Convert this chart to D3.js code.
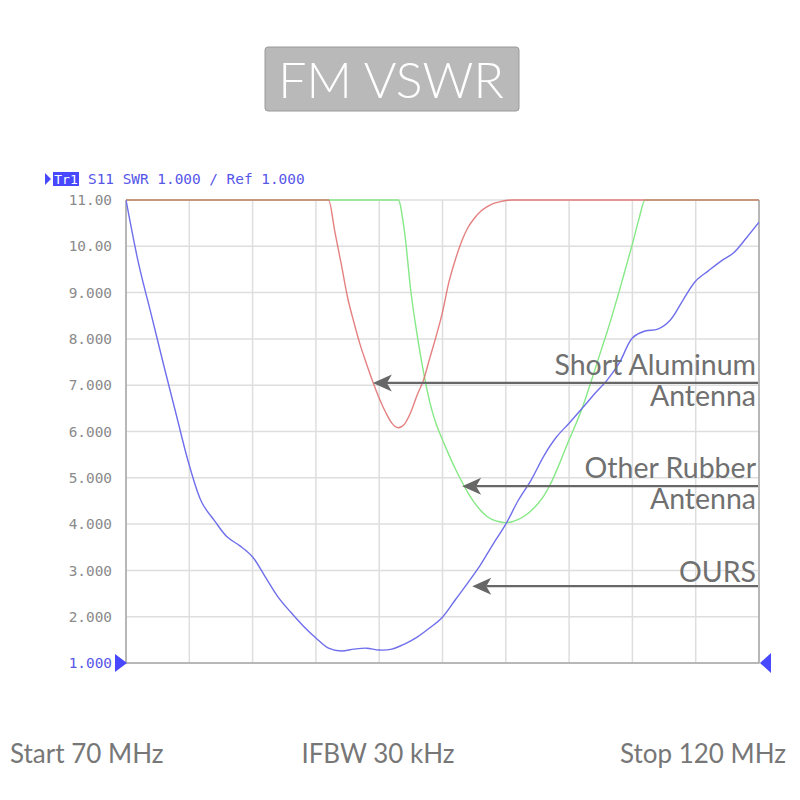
<!DOCTYPE html>
<html><head><meta charset="utf-8">
<script src="https://cdn.jsdelivr.net/npm/d3@7"></script>
<style>body{margin:0;background:#fff}svg{display:block}</style>
</head><body>
<script>
// ---- data ----
// OURS: 1 MHz steps 70..120
const oursFreq = d3.range(70, 121);
const ours = [11.0,9.62,8.52,7.41,6.33,5.27,4.46,4.07,3.72,3.53,3.29,2.86,2.43,2.10,1.80,1.54,1.32,1.26,1.30,1.32,1.28,1.30,1.41,1.56,1.76,1.99,2.36,2.73,3.12,3.57,4.00,4.52,4.95,5.47,5.88,6.18,6.49,6.81,7.11,7.50,8.02,8.17,8.21,8.41,8.84,9.25,9.47,9.68,9.86,10.18,10.52];
// Short Aluminum Antenna (read at 0.5 MHz around the dip)
const aluFreq = [70,85.5,86,86.5,87,87.5,88,88.5,89,89.5,90,90.5,91,91.5,92,92.5,93,93.5,94,94.5,95,95.5,96,96.5,97,97.5,98,98.5,99,99.5,100,100.5,120];
const shortAlu = [11,11,11,10.31,9.62,8.9,8.36,7.87,7.46,7.07,6.72,6.42,6.18,6.08,6.16,6.42,6.79,7.11,7.59,8.06,8.58,9.22,9.7,10.1,10.4,10.6,10.75,10.85,10.92,10.96,10.99,11,11];
// Other Rubber Antenna
const rubFreq = [70,91.5,92,92.5,93,93.5,94,94.5,95,95.5,96,96.5,97,97.5,98,98.5,99,99.5,100,100.5,101,101.5,102,102.5,103,103.5,104,104.5,105,105.5,106,106.5,107,107.5,108,108.5,109,109.5,110,110.5,111,120];
const otherRubber = [11,11,10.31,9.03,8.08,7.28,6.63,6.16,5.82,5.5,5.2,4.93,4.68,4.47,4.3,4.17,4.09,4.05,4.03,4.05,4.1,4.18,4.29,4.43,4.61,4.85,5.15,5.48,5.82,6.14,6.48,6.88,7.3,7.73,8.15,8.6,9.07,9.56,10.05,10.57,11,11];
const yTicks = [11,10,9,8,7,6,5,4,3,2,1];
const yTickLabels = ["11.00","10.00","9.000","8.000","7.000","6.000","5.000","4.000","3.000","2.000","1.000"];
const xTicks = d3.range(70, 121, 5);
const title = "FM VSWR";
const header = "S11 SWR 1.000 / Ref 1.000";
const footer = [["Start 70 MHz","start"],["IFBW 30 kHz","middle"],["Stop 120 MHz","end"]];
const notes = [
  {lines:["Short Aluminum","Antenna"], f:89.5, v:7.05},
  {lines:["Other Rubber","Antenna"], f:96.55, v:4.82},
  {lines:["OURS"], f:97.35, v:2.66}
];

// ---- layout ----
const W = 800, H = 800;
const L = 126, R = 759, T = 200, B = 663;
const svg = d3.select("body").append("svg").attr("width", W).attr("height", H);
const x = d3.scaleLinear().domain([70,120]).range([L,R]);
const y = d3.scaleLinear().domain([1,11]).range([B,T]);
const mono = "'DejaVu Sans Mono', monospace";
const sans = "Lato, 'Noto Sans', sans-serif";

// title box
svg.append("rect").attr("x",265).attr("y",47).attr("width",254).attr("height",64)
  .attr("rx",3).attr("fill","#b9b9b9").attr("stroke","#9a9a9a").attr("stroke-width",1);
svg.append("text").attr("x",391).attr("y",98).attr("text-anchor","middle")
  .attr("font-family",sans).attr("font-size",50).attr("font-weight",300).attr("fill","#fff").text(title);

// header
svg.append("path").attr("d","M45,173 L51,179 L45,185 Z").attr("fill","#4848ff");
svg.append("rect").attr("x",53).attr("y",172).attr("width",26).attr("height",14).attr("fill","#4848ff");
svg.append("text").attr("x",66).attr("y",183.5).attr("text-anchor","middle")
  .attr("font-family",mono).attr("font-size",13).attr("fill","#fff").text("Tr1");
svg.append("text").attr("x",88).attr("y",183.5)
  .attr("font-family",mono).attr("font-size",14.4).attr("fill","#5656e8").text(header);

// grid
const g = svg.append("g");
g.selectAll("line.h").data(yTicks).join("line")
  .attr("x1",L).attr("x2",R).attr("y1",d=>y(d)).attr("y2",d=>y(d))
  .attr("stroke","#dedede").attr("stroke-width",1.5);
g.selectAll("line.v").data(xTicks).join("line")
  .attr("y1",T).attr("y2",B).attr("x1",d=>x(d)).attr("x2",d=>x(d))
  .attr("stroke","#dedede").attr("stroke-width",1.5);
// frame
svg.append("path").attr("d",`M${L},${T} L${L},${B} L${R},${B} L${R},${T}`)
  .attr("fill","none").attr("stroke","#a8a8a8").attr("stroke-width",1.5);

// y axis labels
const yAxis = d3.axisLeft(y).tickValues(yTicks).tickSize(0).tickPadding(14)
  .tickFormat((d,i)=>yTickLabels[i]);
const ya = svg.append("g").attr("transform",`translate(${L},0)`).call(yAxis);
ya.select(".domain").remove();
ya.selectAll("text").attr("font-family",mono).attr("font-size",14.4)
  .attr("fill",d=>d===1?"#5656e8":"#8a8a8a");

// clip
svg.append("clipPath").attr("id","clip").append("rect")
  .attr("x",L).attr("y",T-1).attr("width",R-L).attr("height",B-T+1);

const mkLine = (fr, curve) => d3.line().x((d,i)=>x(fr[i])).y(d=>y(d)).curve(curve);
const plot = svg.append("g").attr("clip-path","url(#clip)");
plot.append("path").datum(otherRubber).attr("d",mkLine(rubFreq, d3.curveMonotoneX)).attr("fill","none")
  .attr("stroke","#86e886").attr("stroke-width",1.4);
plot.append("path").datum(shortAlu).attr("d",mkLine(aluFreq, d3.curveMonotoneX)).attr("fill","none")
  .attr("stroke","#e06a6a").attr("stroke-width",1.4).attr("stroke-opacity",0.85);
plot.append("path").datum(ours).attr("d",mkLine(oursFreq, d3.curveCatmullRom.alpha(0.5))).attr("fill","none")
  .attr("stroke","#6f6fec").attr("stroke-width",1.4);

// markers
svg.append("path").attr("d",`M${L-11},${B-9} L${L+1},${B} L${L-11},${B+9} Z`).attr("fill","#4848ff");
svg.append("path").attr("d",`M${R+12},${B-10} L${R+1},${B} L${R+12},${B+10} Z`).attr("fill","#4848ff");

// annotations
notes.forEach(n=>{
  const ax = x(n.f), ay = y(n.v);
  svg.append("line").attr("x1",ax+14).attr("x2",R-1).attr("y1",ay).attr("y2",ay)
    .attr("stroke","#676767").attr("stroke-width",2.2);
  svg.append("path").attr("d",`M${ax},${ay} L${ax+19},${ay-8.5} L${ax+14},${ay} L${ax+19},${ay+8.5} Z`)
    .attr("fill","#676767");
  const t = svg.append("text").attr("text-anchor","end").attr("font-family",sans)
    .attr("font-size",28.5).attr("fill","#707070");
  if(n.lines.length===2){
    t.append("tspan").attr("x",R-3).attr("y",ay-8).text(n.lines[0]);
    t.append("tspan").attr("x",R-3).attr("y",ay+23).text(n.lines[1]);
  } else {
    t.append("tspan").attr("x",R-3).attr("y",ay-4).text(n.lines[0]);
  }
});

// footer
const fx = {start:10, middle:378, end:786};
footer.forEach(([s,a])=>{
  svg.append("text").attr("x",fx[a]).attr("y",763).attr("text-anchor",a)
    .attr("font-family",sans).attr("font-size",26).attr("fill","#777").text(s);
});
</script>
</body></html>
